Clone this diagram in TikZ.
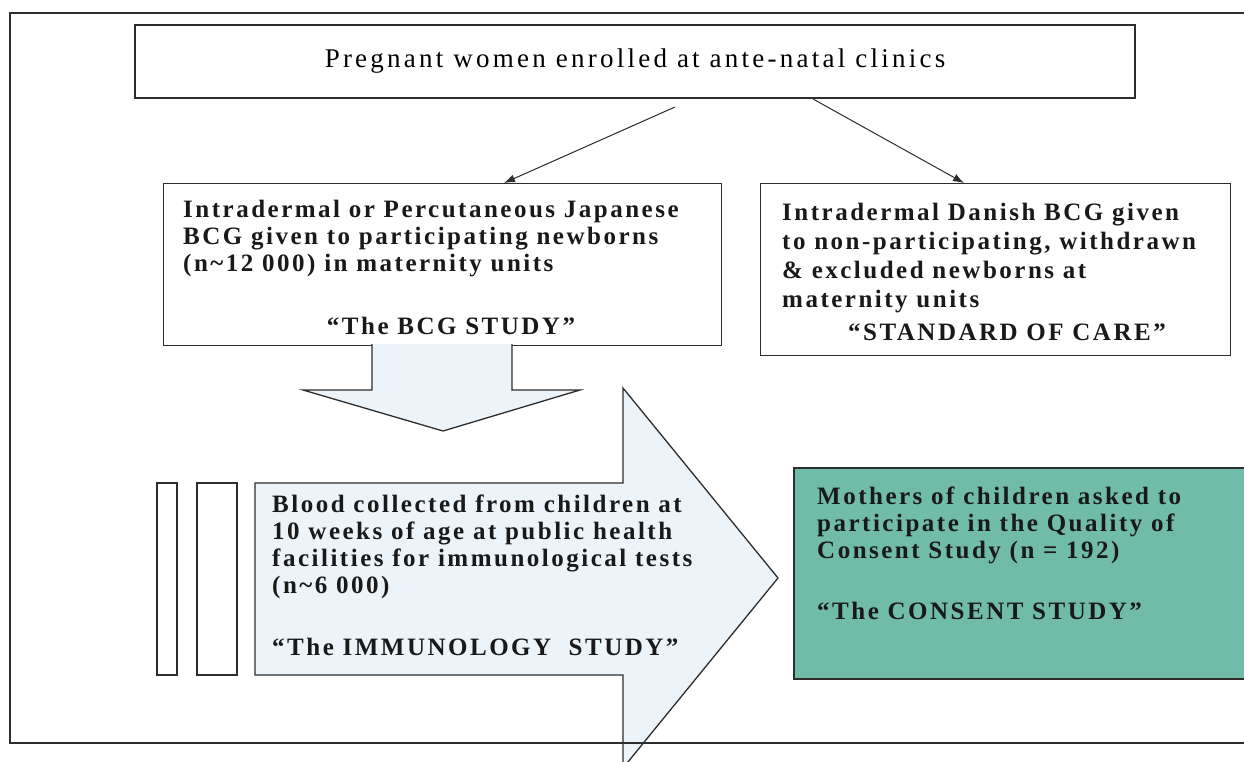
\documentclass[tikz,border=0pt]{standalone}
\usepackage{fontspec}
\setmainfont{Liberation Serif}
\usetikzlibrary{arrows.meta}
\definecolor{consentgreen}{RGB}{112,188,168}
\definecolor{palearrow}{RGB}{236,244,250}
\definecolor{linegray}{RGB}{45,45,45}
\tikzset{
  box/.style={draw=linegray,line width=1.3pt,fill=white,inner sep=0pt,anchor=north west},
  txt/.style={inner sep=0pt,align=left,text=black!90,font=\bfseries\fontsize{25}{27}\selectfont\addfontfeature{LetterSpace=10}},
  arr/.style={-{Latex[length=11pt,width=8pt]},line width=1pt,draw=linegray},
}
\begin{document}
\begin{tikzpicture}[x=1pt,y=-1pt]
        \useasboundingbox (0,0) rectangle (1244,761);
        \node[box,anchor=center,line width=2pt,minimum width=1000pt,minimum height=73pt,font=\fontsize{27}{30}\selectfont\addfontfeature{LetterSpace=12}] (clinics) at (635,61.5) {Pregnant women enrolled at ante-natal clinics};
        \node[box,minimum width=558pt,minimum height=162pt] (bcg) at (163,183) {};
        \node[box,minimum width=470pt,minimum height=172pt] (care) at (760,183) {};
        \draw[arr] ([xshift=40pt,yshift=-8pt]clinics.south) -- ([xshift=341pt]bcg.north west);
        \draw[arr] ([xshift=178pt]clinics.south) -- ([xshift=204pt]care.north west);
        \draw[box,fill=palearrow] (372,344) -- (372,390) -- (303,390) -- (443,431) -- (580,390) -- (512,390) -- (512,344);
        \draw[box,fill=palearrow] (255,483) -- (623,483) -- (623,388) -- (778,578) -- (623,768) -- (623,675) -- (255,675) -- cycle;
        \draw[box] (157,483) rectangle (177,675);
        \draw[box] (197,483) rectangle (237,675);
        \node[box,fill=consentgreen,line width=2pt,minimum width=460pt,minimum height=211pt] (consent) at (793,467) {};
        \draw[linegray,line width=1.3pt] (1260,13) -- (10,13) -- (10,743) -- (1260,743);
        \node[txt,anchor=north west] (bcgtxt) at (183,200) {Intradermal or Percutaneous Japanese\\BCG given to participating newborns\\(n\textasciitilde12 000) in maternity units};
        \node[txt] (bcgname) at (451,326) {\textquotedblleft The BCG STUDY\textquotedblright};
        \node[txt,anchor=north west,font=\bfseries\fontsize{25}{29}\selectfont\addfontfeature{LetterSpace=10}] (caretxt) at (782,203) {Intradermal Danish BCG given\\to non-participating, withdrawn\\\& excluded newborns at\\maternity units};
        \node[txt] (carename) at (1007,332) {\textquotedblleft STANDARD OF CARE\textquotedblright};
        \node[txt,anchor=north west] (bloodtxt) at (272,495) {Blood collected from children at\\10 weeks of age at public health\\facilities for immunological tests\\(n\textasciitilde6 000)};
        \node[txt,anchor=west] (bloodname) at (272,647) {\textquotedblleft The IMMUNOLOGY\ \ STUDY\textquotedblright};
        \node[txt,anchor=north west] (consenttxt) at (817,487) {Mothers of children asked to\\participate in the Quality of\\Consent Study (n = 192)};
        \node[txt,anchor=west] (consentname) at (817,611) {\textquotedblleft The CONSENT STUDY\textquotedblright};
    \end{tikzpicture}
\end{document}
